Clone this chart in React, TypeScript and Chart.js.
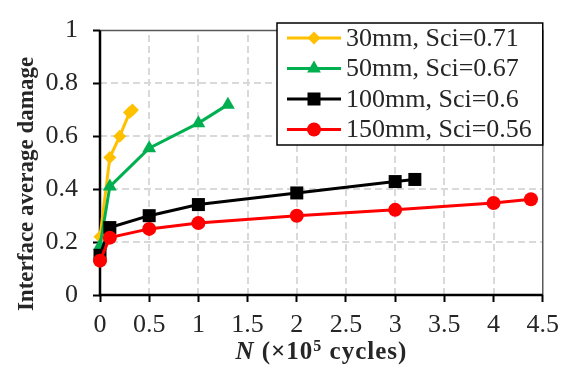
import React, { useEffect, useRef } from 'react';
import { Chart, registerables } from 'chart.js';

Chart.register(...registerables);

const FONT = '"Liberation Serif", "Times New Roman", serif';

// ---- data ----
const xTickLabels = ['0', '0.5', '1', '1.5', '2', '2.5', '3', '3.5', '4', '4.5'];
const yTickLabels = ['0', '0.2', '0.4', '0.6', '0.8', '1'];
const seriesNames = ['30mm, Sci=0.71', '50mm, Sci=0.67', '100mm, Sci=0.6', '150mm, Sci=0.56'];

const cycles30 = [0, 0.1, 0.2, 0.3, 0.33];
const damage30 = [0.22, 0.52, 0.6, 0.69, 0.7];
const cycles50 = [0, 0.1, 0.5, 1.0, 1.3];
const damage50 = [0.185, 0.41, 0.555, 0.65, 0.72];
const cycles100 = [0, 0.1, 0.5, 1, 2, 3, 3.2];
const damage100 = [0.15, 0.255, 0.3, 0.342, 0.386, 0.429, 0.437];
const cycles150 = [0, 0.1, 0.5, 1, 2, 3, 4, 4.38];
const damage150 = [0.13, 0.217, 0.25, 0.272, 0.3, 0.322, 0.348, 0.362];

// ---- styles ----
const colors = ['#FFC000', '#00B050', '#000000', '#FF0000'];
const pointStyles = ['rectRot', 'triangle', 'rect', 'circle'];
const pointRadii = [6.5, 8, 9.2, 7];

const xs = [cycles30, cycles50, cycles100, cycles150];
const ys = [damage30, damage50, damage100, damage150];

function drawMarker(ctx: CanvasRenderingContext2D, style: string, x: number, y: number, r: number, color: string) {
  ctx.save();
  ctx.fillStyle = color;
  ctx.beginPath();
  if (style === 'circle') {
    ctx.arc(x, y, r, 0, Math.PI * 2);
  } else if (style === 'rect') {
    const s = r * Math.SQRT1_2;
    ctx.rect(x - s, y - s, 2 * s, 2 * s);
  } else if (style === 'rectRot') {
    ctx.moveTo(x - r, y);
    ctx.lineTo(x, y - r);
    ctx.lineTo(x + r, y);
    ctx.lineTo(x, y + r);
    ctx.closePath();
  } else if (style === 'triangle') {
    let a = 0;
    ctx.moveTo(x + Math.sin(a) * r, y - Math.cos(a) * r);
    a += (2 * Math.PI) / 3;
    ctx.lineTo(x + Math.sin(a) * r, y - Math.cos(a) * r);
    a += (2 * Math.PI) / 3;
    ctx.lineTo(x + Math.sin(a) * r, y - Math.cos(a) * r);
    ctx.closePath();
  }
  ctx.fill();
  ctx.restore();
}

const framePlugin = {
  id: 'frame',
  beforeDatasetsDraw(chart: any) {
    const { ctx, chartArea: a, scales } = chart;
    ctx.save();
    // dashed grid lines
    ctx.strokeStyle = '#d9d9d9';
    ctx.lineWidth = 2;
    ctx.setLineDash([7, 4]);
    scales.x.ticks.forEach((t: any) => {
      const px = Math.round(scales.x.getPixelForValue(t.value));
      if (px <= a.left + 2 || px >= a.right - 2) return;
      ctx.beginPath();
      ctx.moveTo(px, a.bottom);
      ctx.lineTo(px, a.top);
      ctx.stroke();
    });
    scales.y.ticks.forEach((t: any) => {
      const py = Math.round(scales.y.getPixelForValue(t.value));
      if (py >= a.bottom - 2 || py <= a.top + 2) return;
      ctx.beginPath();
      ctx.moveTo(a.left, py);
      ctx.lineTo(a.right, py);
      ctx.stroke();
    });
    ctx.setLineDash([]);
    // top & right frame
    ctx.strokeStyle = '#595959';
    ctx.lineWidth = 1.5;
    ctx.beginPath();
    ctx.moveTo(a.left, a.top);
    ctx.lineTo(a.right, a.top);
    ctx.lineTo(a.right, a.bottom);
    ctx.stroke();
    // left & bottom axes
    ctx.strokeStyle = '#000000';
    ctx.lineWidth = 2.5;
    ctx.beginPath();
    ctx.moveTo(a.left, a.top);
    ctx.lineTo(a.left, a.bottom);
    ctx.lineTo(a.right, a.bottom);
    ctx.stroke();
    ctx.restore();
  },
  afterDraw(chart: any) {
    const { ctx, chartArea: a } = chart;
    ctx.save();
    // Y title
    ctx.fillStyle = '#262626';
    ctx.font = `bold 23px ${FONT}`;
    ctx.textAlign = 'center';
    ctx.textBaseline = 'middle';
    ctx.translate(27, 184);
    ctx.rotate(-Math.PI / 2);
    ctx.fillText('Interface average damage', 0, 0);
    ctx.restore();

    // X title
    ctx.save();
    ctx.fillStyle = '#262626';
    ctx.textBaseline = 'alphabetic';
    ctx.textAlign = 'left';
    (ctx as any).letterSpacing = '1px';
    const parts = [
      { t: 'N', f: `italic bold 25px ${FONT}`, dy: 0 },
      { t: ' (×10', f: `bold 25px ${FONT}`, dy: 0 },
      { t: '5', f: `bold 16px ${FONT}`, dy: -8 },
      { t: ' cycles)', f: `bold 25px ${FONT}`, dy: 0 },
    ];
    let total = 0;
    for (const p of parts) {
      ctx.font = p.f;
      total += ctx.measureText(p.t).width;
    }
    let x = (a.left + a.right) / 2 - total / 2;
    const base = 359;
    for (const p of parts) {
      ctx.font = p.f;
      ctx.fillText(p.t, x, base + p.dy);
      x += ctx.measureText(p.t).width;
    }
    ctx.restore();

    // Legend
    ctx.save();
    const L = 277, T = 23, R = a.right, B = 145;
    ctx.fillStyle = '#ffffff';
    ctx.fillRect(L, T, R - L, B - T);
    ctx.strokeStyle = '#000000';
    ctx.lineWidth = 1.5;
    ctx.strokeRect(L, T, R - L, B - T);
    const rowY = [38, 68.5, 99, 129.5];
    for (let i = 0; i < seriesNames.length; i++) {
      const y = rowY[i];
      ctx.strokeStyle = colors[i];
      ctx.lineWidth = 3;
      ctx.beginPath();
      ctx.moveTo(287, y);
      ctx.lineTo(341, y);
      ctx.stroke();
      drawMarker(ctx, pointStyles[i], 314, y, pointRadii[i], colors[i]);
      ctx.fillStyle = '#262626';
      ctx.font = `26px ${FONT}`;
      ctx.textAlign = 'left';
      ctx.textBaseline = 'middle';
      ctx.fillText(seriesNames[i], 346, y + 1);
    }
    ctx.restore();
  },
};

export default function App() {
  const ref = useRef<HTMLCanvasElement>(null);
  useEffect(() => {
    if (!ref.current) return;
    const datasets = seriesNames.map((name, i) => ({
      label: name,
      data: xs[i].map((x, j) => ({ x, y: ys[i][j] })),
      borderColor: colors[i],
      backgroundColor: colors[i],
      borderWidth: 3,
      pointStyle: pointStyles[i],
      pointRadius: pointRadii[i],
      pointBorderWidth: 0,
      pointBackgroundColor: colors[i],
      tension: 0,
      clip: false,
      order: 4 - i,
    }));
    const chart = new Chart(ref.current, {
      type: 'line',
      data: { datasets },
      plugins: [framePlugin],
      options: {
        animation: false,
        responsive: false,
        devicePixelRatio: 1,
        layout: { padding: { top: 19, right: 24, left: 0, bottom: 0 } },
        plugins: { legend: { display: false }, tooltip: { enabled: false } },
        scales: {
          x: {
            type: 'linear',
            min: 0,
            max: 4.5,
            afterFit: (s: any) => { s.height = 72; },
            ticks: {
              stepSize: 0.5,
              color: '#262626',
              padding: 8,
              maxRotation: 0,
              font: { family: FONT, size: 26 },
              callback: (_v: any, idx: number) => xTickLabels[idx],
            },
            grid: {
              drawOnChartArea: false,
              tickColor: '#000000',
              tickWidth: 2,
              tickLength: 7,
            },
            border: { display: false },
          },
          y: {
            type: 'linear',
            min: 0,
            max: 1,
            afterFit: (s: any) => { s.width = 100; },
            ticks: {
              stepSize: 0.2,
              color: '#262626',
              padding: 15,
              font: { family: FONT, size: 26 },
              callback: (_v: any, idx: number) => yTickLabels[idx],
            },
            grid: {
              drawOnChartArea: false,
              tickColor: '#000000',
              tickWidth: 2,
              tickLength: 7,
            },
            border: { display: false },
          },
        },
      },
    });
    return () => chart.destroy();
  }, []);
  return (
    <div style={{ position: 'absolute', left: 0, top: 0, width: 567, height: 367, background: '#fff' }}>
      <canvas ref={ref} width={567} height={367} style={{ display: 'block' }} />
    </div>
  );
}
